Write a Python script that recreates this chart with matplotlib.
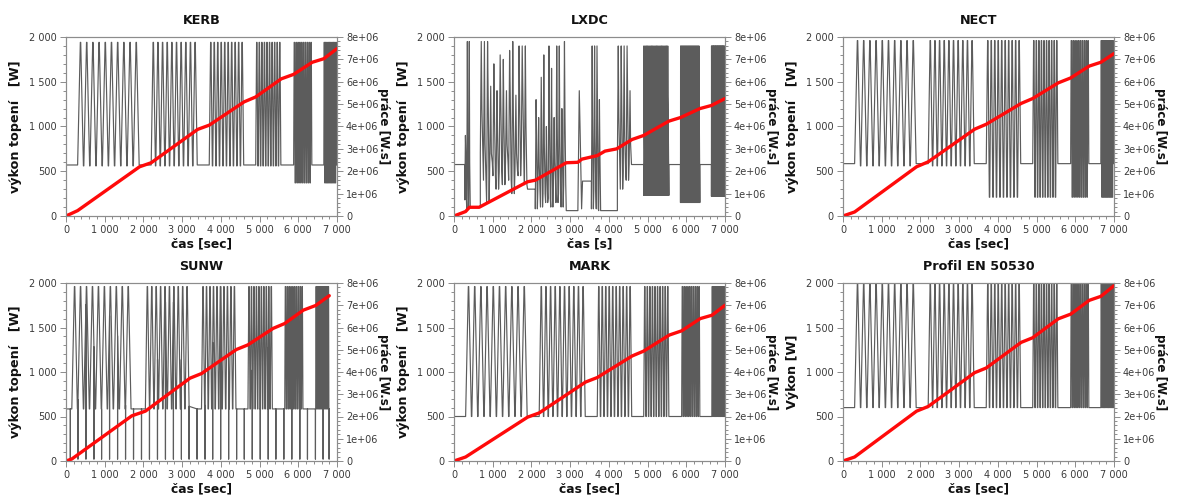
import numpy as np
import matplotlib
matplotlib.use("Agg")
import matplotlib.pyplot as plt
from matplotlib.ticker import MultipleLocator, FuncFormatter

# ---------------- data ----------------
# EN 50530 dynamic test profile (ramps 30 % -> 100 %)
block_start = [300, 2200, 3700, 4900, 5880, 6660]      # s
ramp_time = [70, 50, 35, 23, 14, 7]                    # s
hold_time = 10                                         # s
repetitions = 10

# SUNW log: slightly shorter time base
sunw_block_start = [150, 2050, 3500, 4700, 5650, 6450]
sunw_ramp_time = [67, 47, 35, 22, 14, 7.5]
sunw_dropout_t = [112, 309, 515, 722, 919, 1125, 1332, 1538, 1744, 1950, 2156,
                  2363, 2569, 2775, 2981, 3179, 3385, 3591, 3789, 3995, 4201,
                  4407, 4605, 4811, 5017, 5223, 5421, 5627, 5833, 6040, 6237,
                  6443, 6641, 6796]
sunw_dropout_level = 20

# power levels [W]
kerb_start, kerb_base, kerb_high = 370, 570, 1940
kerb_low = [560, 560, 560, 560, 370, 370]
nect_start, nect_base, nect_high = 585, 585, 1960
nect_low = [560, 560, 210, 210, 210, 210]
sunw_start, sunw_base, sunw_high = 585, 585, 1960
sunw_low = [585, 585, 585, 585, 585, 585]
mark_start, mark_base, mark_high = 420, 500, 1960
mark_low = [500, 500, 500, 500, 500, 500]
prof_start, prof_base, prof_high = 600, 600, 2000
prof_low = [600, 600, 600, 600, 600, 600]

# LXDC (irregular response)
lxdc_flat_start = [0, 430, 1900, 2900, 3320, 3800, 4600, 5550, 6350]
lxdc_flat_end = [280, 680, 2100, 3200, 3550, 4220, 4900, 5850, 6650]
lxdc_flat_level = [575, 100, 300, 60, 390, 60, 575, 575, 575]
lxdc_burst_start = [280, 680, 2100, 3200, 3550, 4220]
lxdc_burst_end = [430, 1900, 2900, 3320, 3800, 4600]
lxdc_burst_high = [
    [900, 1950, 1950],
    [1950, 1950, 1950, 1450, 1700, 1400, 1800, 1750, 1400, 1850, 1950, 1350, 1900, 1900, 1900],
    [1300, 1100, 1550, 1800, 1000, 1900, 1650, 1100, 1900, 1900, 1200, 1950],
    [1400],
    [1900, 1900, 1900, 1300],
    [1900, 1900, 1900, 1900, 1400],
]
lxdc_burst_mid = [
    [700, 900, 600],
    [1200, 800, 1300, 700, 1100, 900, 1250, 1000, 800, 1350, 1100, 700, 1250, 1400, 1000],
    [900, 600, 1000, 800, 500, 1100, 700, 600, 1000, 900, 700, 1100],
    [900],
    [1000, 900, 1100, 700],
    [1100, 1200, 900, 1300, 800],
]
lxdc_burst_low = [
    [180, 80, 100],
    [700, 400, 150, 600, 450, 300, 500, 350, 600, 400, 250, 500, 450, 650, 350],
    [80, 300, 100, 250, 150, 200, 100, 400, 150, 250, 100, 350],
    [80],
    [80, 300, 80, 60],
    [600, 300, 500, 400, 575],
]
lxdc_dense_start = [4900, 5850, 6650]
lxdc_dense_end = [5550, 6350, 7000]
lxdc_dense_low = [230, 150, 220]
lxdc_dense_levels = [1900, 1350, 1250, 950, 880, 600]   # visited each cycle
lxdc_dense_cycles = 20

# cumulative work [W.s] (red)
kerb_wt = [0, 300, 1900, 2200, 3400, 3700, 4600, 4900, 5560, 5880, 6360, 6660, 7000]
kerb_w = [0, 0.24e6, 2.2e6, 2.38e6, 3.87e6, 4.06e6, 5.1e6, 5.32e6, 6.13e6, 6.33e6, 6.87e6, 7.03e6, 7.48e6]
lxdc_wt = [0, 300, 400, 650, 1900, 2100, 2900, 3200, 3300, 3700, 3900, 4200, 4600, 4900, 5550, 5850, 6350, 6650, 7000]
lxdc_w = [0, 0.2e6, 0.39e6, 0.39e6, 1.53e6, 1.6e6, 2.38e6, 2.4e6, 2.54e6, 2.7e6, 2.9e6, 3.0e6, 3.42e6, 3.6e6, 4.24e6, 4.4e6, 4.8e6, 4.94e6, 5.25e6]
nect_wt = [0, 300, 1900, 2200, 3400, 3700, 4600, 4900, 5560, 5880, 6360, 6660, 7000]
nect_w = [0, 0.18e6, 2.2e6, 2.42e6, 3.88e6, 4.1e6, 5.03e6, 5.25e6, 5.95e6, 6.17e6, 6.7e6, 6.87e6, 7.26e6]
sunw_wt = [0, 150, 1700, 2050, 3200, 3500, 4400, 4700, 5350, 5650, 6130, 6450, 6800]
sunw_w = [0, 0.09e6, 2.03e6, 2.24e6, 3.72e6, 3.93e6, 5.01e6, 5.22e6, 5.96e6, 6.18e6, 6.78e6, 6.99e6, 7.43e6]
mark_wt = [0, 300, 1900, 2200, 3400, 3700, 4600, 4900, 5560, 5880, 6360, 6660, 7000]
mark_w = [0, 0.18e6, 1.97e6, 2.16e6, 3.55e6, 3.75e6, 4.72e6, 4.94e6, 5.66e6, 5.85e6, 6.4e6, 6.55e6, 7.0e6]
prof_wt = [0, 300, 1900, 2200, 3400, 3700, 4600, 4900, 5560, 5880, 6360, 6660, 7000]
prof_w = [0, 0.18e6, 2.24e6, 2.45e6, 3.97e6, 4.18e6, 5.33e6, 5.54e6, 6.39e6, 6.6e6, 7.22e6, 7.4e6, 7.88e6]

titles = ["KERB", "LXDC", "NECT", "SUNW", "MARK", "Profil EN 50530"]
xlabels = ["čas [sec]", "čas [s]", "čas [sec]", "čas [sec]", "čas [sec]", "čas [sec]"]
ylabels = ["výkon topení   [W]"] * 5 + ["Výkon [W]"]
ylabel_right = "práce [W.s]"


# ---------------- helpers ----------------
def ramp_signal(starts, ramps, base, high, lows, start_val, t_end=7000):
    t = [0, 8]
    p = [start_val, base]
    tt = 8
    for s, r, lo in zip(starts, ramps, lows):
        t.append(s); p.append(base)
        tt = s
        for k in range(repetitions):
            tt += r; t.append(tt); p.append(high)
            tt += hold_time; t.append(tt); p.append(high)
            tt += r
            if k == repetitions - 1:
                t.append(tt); p.append(base)
            else:
                t.append(tt); p.append(lo)
                tt += hold_time; t.append(tt); p.append(lo)
    if tt < t_end:
        t.append(t_end); p.append(base)
    return np.array(t, float), np.array(p, float)


def add_dropouts(t, p, times, level):
    tl, pl = list(t), list(p)
    for td in times:
        v = np.interp(td, t, p)
        tl += [td, td, td + 1]
        pl += [v, level, v]
    order = np.argsort(np.array(tl), kind="stable")
    return np.array(tl)[order], np.array(pl)[order]


def lxdc_signal():
    segs = []
    for a, b, lv in zip(lxdc_flat_start, lxdc_flat_end, lxdc_flat_level):
        segs.append((a, [a, b], [lv, lv]))
    for a, b, hi, mi, lo in zip(lxdc_burst_start, lxdc_burst_end,
                                lxdc_burst_high, lxdc_burst_mid, lxdc_burst_low):
        n = len(hi)
        dt = (b - a) / n
        ts, ps = [], []
        for k in range(n):
            t0 = a + k * dt
            ts += [t0, t0 + 0.3 * dt, t0 + 0.5 * dt, t0 + 0.8 * dt]
            ps += [lo[k], hi[k], mi[k], lo[k]]
        segs.append((a, ts, ps))
    for a, b, lo in zip(lxdc_dense_start, lxdc_dense_end, lxdc_dense_low):
        dt = (b - a) / lxdc_dense_cycles
        ts, ps = [], []
        m = len(lxdc_dense_levels)
        for k in range(lxdc_dense_cycles):
            t0 = a + k * dt
            ts.append(t0); ps.append(lo)
            for j, lv in enumerate(lxdc_dense_levels):
                ts.append(t0 + dt * (j + 1) / (m + 2)); ps.append(lv)
        ts.append(b); ps.append(lo)
        segs.append((a, ts, ps))
    segs.sort(key=lambda s: s[0])
    T, P = [], []
    for _, ts, ps in segs:
        T += list(ts); P += list(ps)
    return np.array(T, float), np.array(P, float)


signals = [
    ramp_signal(block_start, ramp_time, kerb_base, kerb_high, kerb_low, kerb_start),
    lxdc_signal(),
    ramp_signal(block_start, ramp_time, nect_base, nect_high, nect_low, nect_start),
    add_dropouts(*ramp_signal(sunw_block_start, sunw_ramp_time, sunw_base, sunw_high,
                              sunw_low, sunw_start, t_end=6800),
                 sunw_dropout_t, sunw_dropout_level),
    ramp_signal(block_start, ramp_time, mark_base, mark_high, mark_low, mark_start),
    ramp_signal(block_start, ramp_time, prof_base, prof_high, prof_low, prof_start),
]
works = [(kerb_wt, kerb_w), (lxdc_wt, lxdc_w), (nect_wt, nect_w),
         (sunw_wt, sunw_w), (mark_wt, mark_w), (prof_wt, prof_w)]

# ---------------- figure ----------------
plt.rcParams["font.family"] = ["DejaVu Sans"]
W, H = 1178, 497
fig = plt.figure(figsize=(W / 100, H / 100), dpi=100)

lefts = [66, 454, 843]
rows = [(37, 216), (283, 461)]
axw = 271

spine_col = "#8c8c8c"
txt_col = "#3a3a3a"
tick_fs = 7.0


def thousands(v, pos):
    v = int(round(v))
    return f"{v:,}".replace(",", " ")


def sci(v, pos):
    if abs(v) < 1:
        return "0"
    return f"{v:.0e}"


for i in range(6):
    r, c = divmod(i, 3)
    top, bot = rows[r]
    rect = [lefts[c] / W, 1 - bot / H, axw / W, (bot - top) / H]
    ax = fig.add_axes(rect)
    t, p = signals[i]
    ax.plot(t, p, color="#333333", lw=0.85, alpha=0.8)
    ax.set_xlim(0, 7000)
    ax.set_ylim(0, 2000)
    ax.xaxis.set_major_locator(MultipleLocator(1000))
    ax.xaxis.set_minor_locator(MultipleLocator(200))
    ax.yaxis.set_major_locator(MultipleLocator(500))
    ax.yaxis.set_minor_locator(MultipleLocator(100))
    ax.xaxis.set_major_formatter(FuncFormatter(thousands))
    ax.yaxis.set_major_formatter(FuncFormatter(thousands))
    for sp in ax.spines.values():
        sp.set_color(spine_col)
        sp.set_linewidth(0.8)
    ax.tick_params(which="both", direction="out", colors=spine_col,
                   labelcolor=txt_col, labelsize=tick_fs, width=0.7)
    ax.tick_params(which="major", length=4, pad=2.5)
    ax.tick_params(which="minor", length=2.5)
    ax.set_title(titles[i], fontsize=9.2, fontweight="bold", pad=9, color="#111111")
    ax.set_xlabel(xlabels[i], fontsize=8.8, fontweight="bold", labelpad=2, color="#111111")
    ax.set_ylabel(ylabels[i], fontsize=9.2, fontweight="bold", labelpad=5, color="#111111")

    ax2 = ax.twinx()
    wt, w = works[i]
    ax2.plot(wt, w, color="#ff0a0a", lw=2.4, solid_capstyle="round")
    ax2.set_ylim(0, 8e6)
    ax2.set_xlim(0, 7000)
    ax2.yaxis.set_major_locator(MultipleLocator(1e6))
    ax2.yaxis.set_minor_locator(MultipleLocator(2e5))
    ax2.yaxis.set_major_formatter(FuncFormatter(sci))
    for sp in ax2.spines.values():
        sp.set_color(spine_col)
        sp.set_linewidth(0.8)
    ax2.tick_params(which="both", direction="out", colors=spine_col,
                    labelcolor=txt_col, labelsize=tick_fs, width=0.7)
    ax2.tick_params(which="major", length=4, pad=2.5)
    ax2.tick_params(which="minor", length=2.5)
    ax2.set_ylabel(ylabel_right, fontsize=8.6, fontweight="bold", rotation=270,
                   labelpad=8, color="#111111")

fig.savefig("out.png", dpi=100)
